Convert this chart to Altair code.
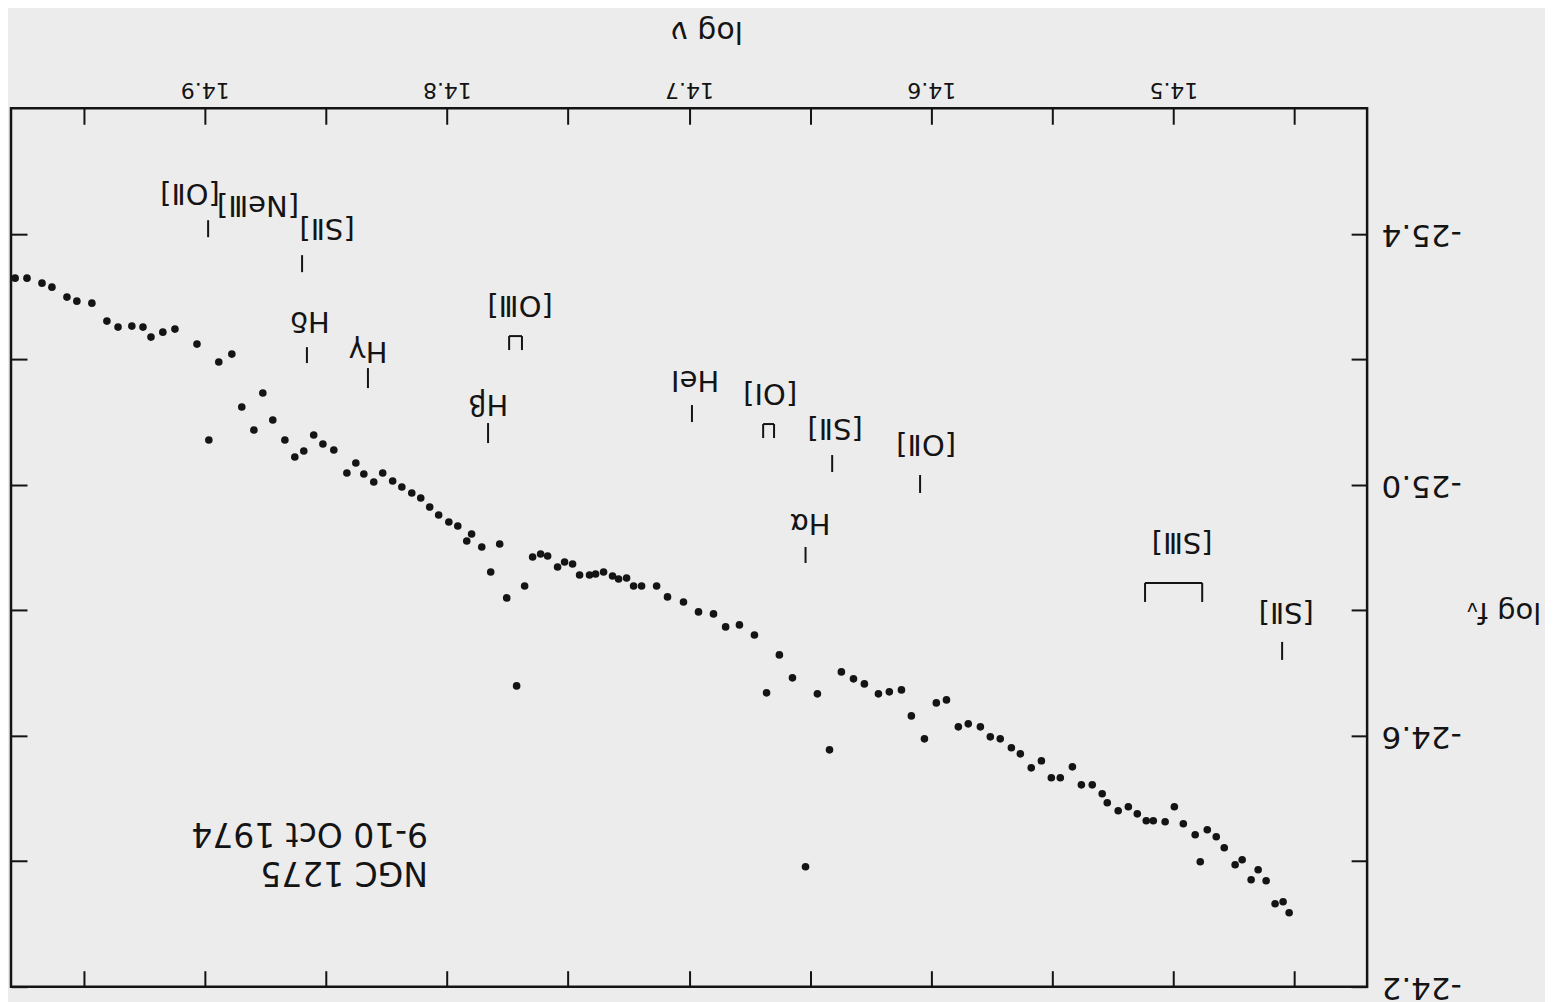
import altair as alt
import pandas as pd

# ---- observed continuum points (log nu, log f_nu) ----
log_nu = [
    14.9783, 14.9734, 14.9672, 14.9631, 14.9569, 14.9528, 14.9466, 14.9404, 14.9358, 14.9301,
    14.9255, 14.9222, 14.9173, 14.9123, 14.9032, 14.8942, 14.8888, 14.8983, 14.8847, 14.8760,
    14.8797, 14.8719, 14.8669, 14.8628, 14.8591, 14.8550, 14.8512, 14.8467, 14.8413, 14.8376,
    14.8343, 14.8302, 14.8265, 14.8224, 14.8186, 14.8145, 14.8108, 14.8071, 14.8034, 14.7992,
    14.7955, 14.7918, 14.7898, 14.7856, 14.7782, 14.7819, 14.7753, 14.7679, 14.7712, 14.7646,
    14.7613, 14.7584, 14.7543, 14.7514, 14.7481, 14.7452, 14.7411, 14.7386, 14.7353, 14.7316,
    14.7291, 14.7258, 14.7229, 14.7196, 14.7134, 14.7089, 14.7023, 14.6961, 14.6899, 14.6849,
    14.6792, 14.6730, 14.6627, 14.6680, 14.6573, 14.6470, 14.6519, 14.6420, 14.6371, 14.6321,
    14.6276, 14.6218, 14.6173, 14.6123, 14.6082, 14.6028, 14.5979, 14.5937, 14.5888, 14.5847,
    14.5797, 14.5756, 14.5715, 14.5669, 14.5632, 14.5587, 14.5545, 14.5504, 14.5467, 14.5417,
    14.5380, 14.5335, 14.5294, 14.5273, 14.5228, 14.5186, 14.5149, 14.5112, 14.5083, 14.5034,
    14.4996, 14.4959, 14.4910, 14.4889, 14.4860, 14.4823, 14.4790, 14.4745, 14.4716, 14.4679,
    14.4650, 14.4617, 14.4580, 14.4547, 14.4522,
]
log_fnu = [
    -25.3292, -25.3292, -25.3213, -25.3149, -25.2990, -25.2926, -25.2894, -25.2608, -25.2512, -25.2528,
    -25.2512, -25.2353, -25.2432, -25.2480, -25.2241, -25.1955, -25.2082, -25.0712, -25.1238, -25.1461,
    -25.0872, -25.1031, -25.0712, -25.0441, -25.0537, -25.0792, -25.0649, -25.0553, -25.0187, -25.0346,
    -25.0171, -25.0043, -25.0187, -25.0059, -24.9964, -24.9868, -24.9788, -24.9645, -24.9518, -24.9406,
    -24.9343, -24.9104, -24.9215, -24.9008, -24.9056, -24.8610, -24.8196, -24.8387, -24.6794, -24.8849,
    -24.8896, -24.8865, -24.8689, -24.8769, -24.8737, -24.8562, -24.8562, -24.8578, -24.8610, -24.8546,
    -24.8498, -24.8514, -24.8387, -24.8387, -24.8387, -24.8212, -24.8132, -24.7973, -24.7941, -24.7734,
    -24.7766, -24.7606, -24.7288, -24.6683, -24.6922, -24.6667, -24.3911, -24.5775, -24.7017, -24.6906,
    -24.6826, -24.6667, -24.6699, -24.6730, -24.6316, -24.5950, -24.6523, -24.6571, -24.6141, -24.6189,
    -24.6141, -24.5982, -24.5950, -24.5807, -24.5711, -24.5488, -24.5600, -24.5329, -24.5329, -24.5504,
    -24.5217, -24.5217, -24.5074, -24.4931, -24.4803, -24.4867, -24.4755, -24.4644, -24.4644, -24.4628,
    -24.4867, -24.4596, -24.4421, -24.3991, -24.4501, -24.4389, -24.4214, -24.3943, -24.4023, -24.3704,
    -24.3864, -24.3688, -24.3322, -24.3354, -24.3179,
]

# ---- emission-line labels ----
label_text = ["[OⅡ]", "[NeⅢ]", "[SⅡ]", "Hδ", "Hγ", "[OⅢ]", "Hβ", "HeⅠ",
              "[OⅠ]", "[SⅡ]", "Hα", "[OⅡ]", "[SⅢ]", "[SⅡ]"]
label_x = [14.9061, 14.8780, 14.8495, 14.8565, 14.8326, 14.7698, 14.7830, 14.6975,
           14.6665, 14.6397, 14.6500, 14.6021, 14.4964, 14.4534]
label_y = [-25.4646, -25.4455, -25.4089, -25.2608, -25.2130, -25.2862, -25.1286, -25.1668,
           -25.1461, -25.0903, -24.9390, -25.0649, -24.9088, -24.7973]

# ---- line marker segments (ticks and brackets) ----
seg_x1 = [14.8986, 14.8598, 14.8578, 14.8326, 14.7830, 14.6988, 14.6409, 14.6519, 14.6046, 14.4551,
          14.7743, 14.7690, 14.7743, 14.6694, 14.6649, 14.6694, 14.5117, 14.4881, 14.5117]
seg_x2 = [14.8986, 14.8598, 14.8578, 14.8326, 14.7830, 14.6988, 14.6409, 14.6519, 14.6046, 14.4551,
          14.7743, 14.7690, 14.7690, 14.6694, 14.6649, 14.6649, 14.5117, 14.4881, 14.4881]
seg_y1 = [-25.4216, -25.3659, -25.2193, -25.1859, -25.0983, -25.1270, -25.0473, -24.9008, -25.0155, -24.7495,
          -25.2369, -25.2369, -25.2369, -25.0967, -25.0967, -25.0967, -24.8435, -24.8435, -24.8435]
seg_y2 = [-25.3945, -25.3388, -25.1939, -25.1540, -25.0664, -25.0999, -25.0203, -24.8753, -24.9868, -24.7208,
          -25.2146, -25.2146, -25.2369, -25.0744, -25.0744, -25.0967, -24.8132, -24.8132, -24.8435]

# ---- annotation ----
note_text = ["NGC 1275", "9-10 Oct 1974"]
note_x = [14.8078, 14.8078]
note_y = [-24.3832, -24.4453]

x_ticks = [14.45, 14.50, 14.55, 14.60, 14.65, 14.70, 14.75, 14.80, 14.85, 14.90, 14.95]
y_ticks = [-25.4, -25.2, -25.0, -24.8, -24.6, -24.4, -24.2]

FONT = "DejaVu Sans"
INK = "#141414"

pts = pd.DataFrame({"log_nu": log_nu, "log_fnu": log_fnu})
labs = pd.DataFrame({"lx": label_x, "ly": label_y, "label": label_text})
segs = pd.DataFrame({"x1": seg_x1, "x2": seg_x2, "y1": seg_y1, "y2": seg_y2})
notes = pd.DataFrame({"nx": note_x, "ny": note_y, "note": note_text})

xs = alt.Scale(domain=[14.42, 14.98], reverse=True, nice=False, zero=False)
ys = alt.Scale(domain=[-25.6, -24.2], reverse=True, nice=False, zero=False)

top_axis = alt.Axis(
    orient="top", values=x_ticks, format=".1f",
    labelExpr="(round(datum.value*100) % 10 == 0) ? datum.label : ''",
    labelAngle=180, labelAlign="center", labelBaseline="top", labelPadding=9,
    labelFontSize=22, labelFont=FONT, labelColor=INK, labelOverlap=False,
    tickSize=16, tickWidth=2, tickColor=INK, offset=-16, domain=False, grid=False,
    title="log ν", titleAngle=180, titleX=696, titleY=-94, titleAlign="center",
    titleBaseline="middle", titleFontSize=30, titleFont=FONT, titleFontWeight="normal",
    titleColor=INK,
)
right_axis = alt.Axis(
    orient="right", values=y_ticks, format=".1f",
    labelExpr="(round(datum.value*10) % 4 != 0) ? replace(datum.label, '\u2212', '-') : ''",
    labelAngle=180, labelAlign="right", labelBaseline="middle", labelPadding=14,
    labelFontSize=31, labelFont=FONT, labelColor=INK, labelOverlap=False,
    tickSize=16, tickWidth=2, tickColor=INK, offset=-16, domain=False, grid=False,
    title="log f\u1d65", titleAngle=180, titleX=152, titleY=504, titleAlign="center",
    titleBaseline="middle", titleFontSize=29, titleFont=FONT, titleFontWeight="normal",
    titleColor=INK,
)
bottom_axis = alt.Axis(
    orient="bottom", values=x_ticks, labels=False, tickSize=16, tickWidth=2,
    tickColor=INK, offset=-16, domain=False, grid=False, title=None,
)
left_axis = alt.Axis(
    orient="left", values=y_ticks, labels=False, tickSize=16, tickWidth=2,
    tickColor=INK, offset=-16, domain=False, grid=False, title=None,
)

points = alt.Chart(pts).mark_circle(size=58, color=INK, opacity=1).encode(
    x=alt.X("log_nu:Q", scale=xs, axis=top_axis),
    y=alt.Y("log_fnu:Q", scale=ys, axis=right_axis),
)

rules = alt.Chart(segs).mark_rule(color=INK, strokeWidth=2).encode(
    x=alt.X("x1:Q", scale=xs, axis=bottom_axis),
    x2="x2:Q",
    y=alt.Y("y1:Q", scale=ys, axis=left_axis),
    y2="y2:Q",
)

labels = alt.Chart(labs).mark_text(
    angle=180, fontSize=29, font=FONT, color=INK, align="center", baseline="middle"
).encode(
    x=alt.X("lx:Q", scale=xs, axis=None),
    y=alt.Y("ly:Q", scale=ys, axis=None),
    text="label:N",
)

note = alt.Chart(notes).mark_text(
    angle=180, fontSize=33, font=FONT, color=INK, align="left", baseline="middle"
).encode(
    x=alt.X("nx:Q", scale=xs, axis=None),
    y=alt.Y("ny:Q", scale=ys, axis=None),
    text="note:N",
)

chart = (
    alt.layer(points, rules, labels, note)
    .resolve_axis(x="independent", y="independent")
    .properties(
        width=1357, height=879,
        autosize=alt.AutoSizeParams(type="none"),
        padding={"left": 3, "top": 100, "right": 178, "bottom": 18},
        background="#ececec",
    )
    .configure_view(stroke=INK, strokeWidth=2.5)
)

chart.save("out.html", embed_options={"renderer": "svg", "actions": False})
